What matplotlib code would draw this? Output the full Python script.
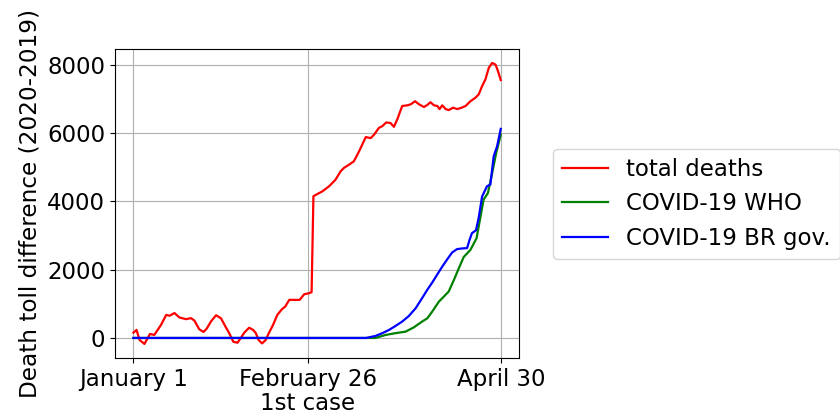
import numpy as np
import matplotlib
matplotlib.use('Agg')
import matplotlib.pyplot as plt

# days counted from January 1
total_days = [0, 1, 2, 3.6, 5.4, 6.8, 9, 10.7, 11.8, 13.4, 15, 17.2, 18.8, 19.9, 21.5, 22.9,
              24, 25.3, 27, 28.6, 30.2, 31.3, 32.6, 34, 35, 36.2, 37.8, 39.1, 40, 40.9, 42,
              43.2, 44.1, 45.6, 47, 48.5, 49.6, 50.9, 52.5, 54.3, 55.8, 57.4, 58.2, 58.8,
              59.6, 61.7, 63.9, 66, 67.7, 68.8, 70.4, 72, 73.7, 75.9, 77.5, 78.6, 80.2, 81.3,
              82.6, 84, 85.1, 86.2, 87.8, 89.5, 90.6, 92, 93.3, 94.9, 96, 97, 98.2, 99.3, 100,
              100.9, 102, 103, 104.4, 105.8, 107.2, 108.5, 110.1, 111.7, 112.8, 113.9, 115,
              116.1, 117.2, 118.3, 119.1, 120]
total_deaths = [155, 235, -59, -176, 117, 88, 380, 675, 650, 730, 600, 550, 580, 510, 255, 175,
                280, 480, 665, 575, 310, 140, -110, -140, -10, 155, 300, 235, 140, -60, -160,
                -60, 117, 380, 675, 840, 920, 1115, 1115, 1115, 1280, 1310, 1340, 4150,
                4190, 4290, 4440, 4630, 4880, 4980, 5070, 5170, 5460, 5880, 5850, 5950, 6150, 6200,
                6310, 6290, 6180, 6400, 6790, 6810, 6840, 6930, 6840, 6760, 6820, 6900, 6810, 6790, 6700,
                6810, 6700, 6670, 6740, 6700, 6740, 6790, 6930, 7030, 7130, 7370, 7570,
                7910, 8050, 8000, 7810, 7550]

who_days = [0, 79, 82.4, 85.6, 88.9, 91.6, 94.3, 96, 97.6, 99.8, 101.4, 103, 104.7, 106.3,
            107.9, 110.1, 112.1, 113.4, 114.4, 115.8, 117.2, 118.5, 120]
who_deaths = [0, 0, 88, 140, 185, 310, 480, 575, 770, 1065, 1210, 1360, 1700, 2040,
              2370, 2580, 2920, 3560, 4050, 4240, 4830, 5410, 5950]

gov_days = [0, 76, 79.1, 81.3, 83.5, 85.6, 87.8, 90, 92.2, 94.3, 96, 97.6, 99.2, 100.9,
            102.5, 104.1, 105.7, 107.3, 109, 109.8, 110.6, 111.9, 112.8, 113.9, 115.5,
            116.6, 117.7, 118.8, 120]
gov_deaths = [0, 0, 60, 140, 235, 350, 480, 645, 870, 1165, 1410, 1620, 1850, 2090,
              2300, 2500, 2600, 2620, 2630, 2870, 3070, 3150, 3520, 4140, 4440,
              4490, 5320, 5610, 6120]

tick_days = [0, 57, 120]
tick_labels = ['January 1', 'February 26\n1st case', 'April 30']

fig, ax = plt.subplots(figsize=(8.4, 4.18), dpi=100)
fig.subplots_adjust(left=0.137, right=0.618, top=0.883, bottom=0.1435)

ax.plot(total_days, total_deaths, color='red', lw=1.6, label='total deaths')
ax.plot(who_days, who_deaths, color='green', lw=1.6, label='COVID-19 WHO')
ax.plot(gov_days, gov_deaths, color='blue', lw=1.6, label='COVID-19 BR gov.')

ax.set_xticks(tick_days)
ax.set_xticklabels(tick_labels, linespacing=1.05)
ax.set_yticks([0, 2000, 4000, 6000, 8000])
ax.tick_params(labelsize=16.5)
ax.set_ylabel('Death toll difference (2020-2019)', fontsize=16.7, labelpad=4)
ax.grid(True)

fig.legend(loc='center left', bbox_to_anchor=(553 / 840, 1 - 204 / 418),
           borderaxespad=0, fontsize=16.5)

fig.savefig('out.png', dpi=100)
